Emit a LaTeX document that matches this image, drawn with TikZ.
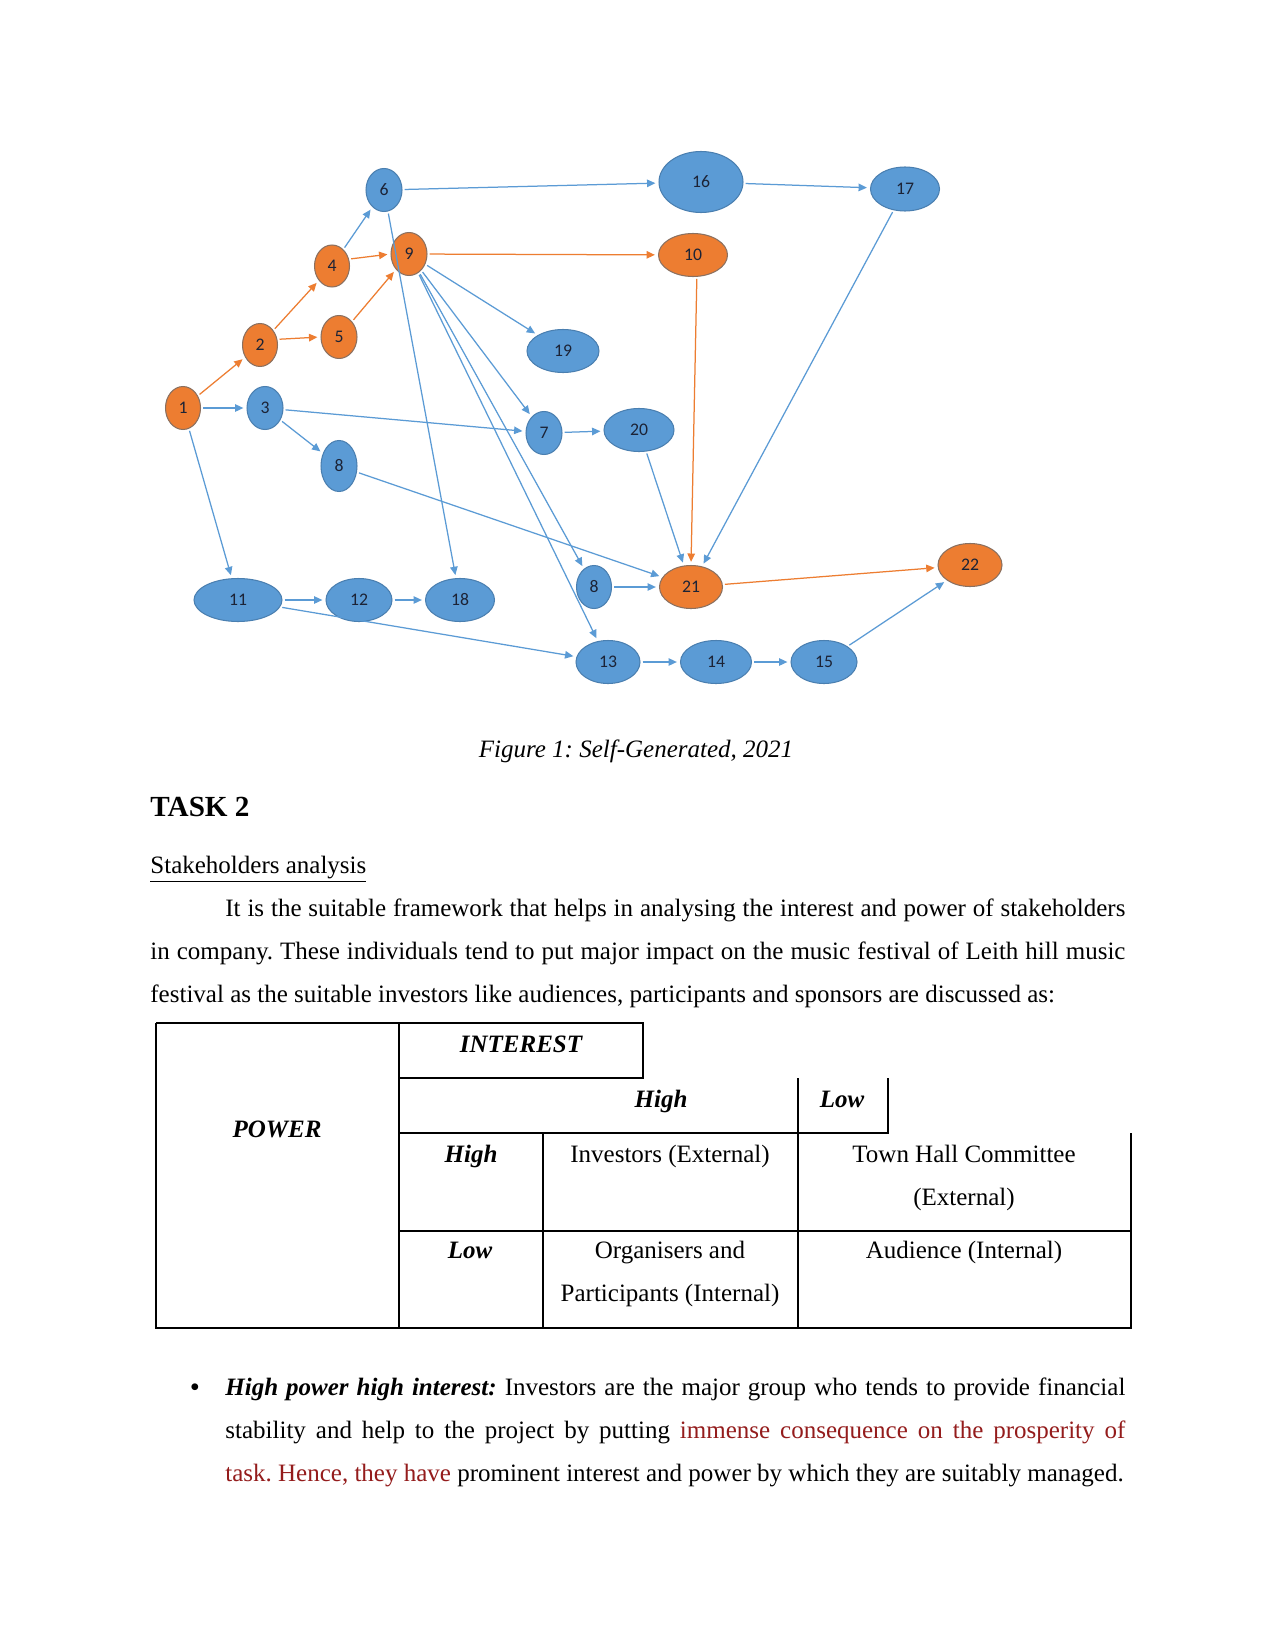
\documentclass[tikz,border=0pt]{standalone}
\usepackage{fontspec}
\setmainfont{Liberation Serif}
\newfontfamily\calib{Carlito}
\frenchspacing
\usetikzlibrary{arrows.meta,shapes.geometric}
\definecolor{netblue}{HTML}{5B9BD5}
\definecolor{netorange}{HTML}{ED7D31}
\definecolor{blueline}{HTML}{4A7FB0}
\definecolor{orangeline}{HTML}{8A7060}
\definecolor{ink}{HTML}{1C2336}
\definecolor{darkred}{HTML}{941C1C}
\tikzset{>={Triangle[length=4pt,width=3.6pt]},
  task/.style={ellipse,inner sep=0pt,font=\calib\fontsize{8.5pt}{10pt}\selectfont,text=ink,line width=.5pt},
  bnode/.style={task,fill=netblue,draw=blueline},
  onode/.style={task,fill=netorange,draw=orangeline},
  sz/.style 2 args={minimum width=#1*0.48pt,minimum height=#2*0.48pt},
  bedge/.style={->,draw=netblue,line width=.6pt,shorten >=1.5pt,shorten <=1pt},
  oedge/.style={->,draw=netorange,line width=.6pt,shorten >=1.5pt,shorten <=1pt},
  body/.style={font=\fontsize{12pt}{14pt}\selectfont,inner sep=0pt,anchor=base west},
  cell/.style={font=\fontsize{12pt}{14pt}\selectfont,inner sep=0pt,anchor=base},
  head/.style={cell,font=\fontsize{12pt}{14pt}\selectfont\bfseries\itshape},
  tabline/.style={line width=.6pt}}
\begin{document}
\begin{tikzpicture}[x=0.48pt,y=-0.48pt]
\useasboundingbox (0,0) rectangle (1275,1651);
\fill[white] (0,0) rectangle (1275,1651);

\foreach \n/\t/\x/\y/\w/\h/\s in {1/1/183/408/35/43/onode,2/2/260/345/35/43/onode,
  3/3/265/408/36/43/bnode,4/4/332/266/35/42/onode,5/5/339/337/36/43/onode,
  6/6/384/190/36/43/bnode,9/9/409/254/36/43/onode,10/10/693/255/69/43/onode,
  16/16/701/182/84/61/bnode,17/17/905/189/69/44/bnode,19/19/563/351/72/43/bnode,
  7/7/544/433/36/43/bnode,20/20/639/430/70/43/bnode,8a/8/339/466/36/51/bnode,
  11/11/238/600/88/43/bnode,12/12/359/600/66/43/bnode,18/18/460/600/69/43/bnode,
  8b/8/594/587/35/43/bnode,21/21/691/587/63/43/onode,22/22/970/565/64/43/onode,
  13/13/608/662/64/43/bnode,14/14/716/662/71/43/bnode,15/15/824/662/66/43/bnode}
  \node[\s,sz={\w}{\h}] (n\n) at (\x,\y) {\t};

\foreach \a/\b in {1/3,1/11,3/7,3/8a,4/6,6/16,6/18,9/19,9/7,9/8b,9/13,8a/21,7/20,
  20/21,17/21,16/17,8b/21,11/12,12/18,11/13,13/14,14/15,15/22}
  \draw[bedge] (n\a) -- (n\b);
\foreach \a/\b in {1/2,2/4,5/9,9/10,21/22}
  \draw[oedge] (n\a) -- (n\b);
\draw[oedge] (n2.18) -- (n5.west);
\draw[oedge] (n4.22) -- (n9.west);
\draw[oedge] (n10.-80) -- (n21.90);

\node[body,anchor=base] (caption) at (636,757) {\itshape Figure 1: Self-Generated, 2021};
\node[body,font=\fontsize{14pt}{16pt}\selectfont\bfseries] (task2) at (150,816) {TASK 2};
\node[body] (subhead) at (150,873) {\underline{Stakeholders analysis}};
\node[body] (para1) at (225,916) {\makebox[432pt][s]{It is the suitable framework that helps in analysing the interest and power of stakeholders}};
\node[body] (para2) at (150,959) {\makebox[468pt][s]{in company. These individuals tend to put major impact on the music festival of Leith hill music}};
\node[body] (para3) at (150,1002) {festival as the suitable investors like audiences, participants and sponsors are discussed as:};

\draw[tabline] (156,1023) -- (643,1023) -- (643,1078) -- (399,1078);
\draw[tabline] (156,1023) -- (156,1328) -- (1131,1328) -- (1131,1133);
\draw[tabline] (399,1023) -- (399,1328);
\draw[tabline] (399,1133) -- (888,1133) -- (888,1078);
\draw[tabline] (798,1078) -- (798,1328);
\draw[tabline] (399,1231) -- (1131,1231);
\draw[tabline] (543,1133) -- (543,1328);

\node[head] (interest) at (521,1052) {INTEREST};
\node[head] (ihigh) at (661,1107) {High};
\node[head] (ilow) at (842,1107) {Low};
\node[head] (power) at (277,1137) {POWER};
\node[head] (phigh) at (471,1162) {High};
\node[head] (plow) at (470,1258) {Low};
\node[cell] (investors) at (670,1162) {Investors (External)};
\node[cell] (townhall) at (964,1162) {Town Hall Committee};
\node[cell] (townext) at (964,1205) {(External)};
\node[cell] (organisers) at (670,1258) {Organisers and};
\node[cell] (particip) at (670,1301) {Participants (Internal)};
\node[cell] (audience) at (964,1258) {Audience (Internal)};

\node[body] (bullet) at (190,1395) {\textbf{\textit{\textbullet}}};
\node[body] (bul1) at (225,1395) {\makebox[432pt][s]{\textbf{\textit{High power high interest:}} Investors are the major group who tends to provide financial}};
\node[body] (bul2) at (225,1438) {\makebox[432pt][s]{stability and help to the project by putting \textcolor{darkred}{immense consequence on the prosperity of}}};
\node[body] (bul3) at (225,1481) {\textcolor{darkred}{task. Hence, they have} prominent interest and power by which they are suitably managed.};
\end{tikzpicture}
\end{document}
